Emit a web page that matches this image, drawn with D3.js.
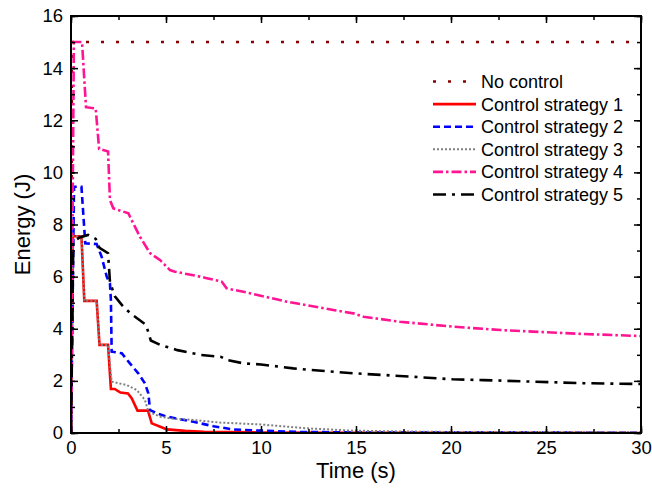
<!DOCTYPE html>
<html><head><meta charset="utf-8">
<script src="https://cdn.jsdelivr.net/npm/d3@7"></script>
<style>body{margin:0;background:#fff}svg{display:block}text{font-family:"Liberation Sans",Arial,sans-serif;fill:#000}</style>
</head><body><svg id="c" width="652" height="490"></svg>
<script>
const seriesNames = ["No control","Control strategy 1","Control strategy 2","Control strategy 3","Control strategy 4","Control strategy 5"];
const tNo = [0,0.05,30];
const eNo = [0,15,15];
const t1 = [0,0.1,0.55,0.7,1.35,1.5,1.95,2.1,2.3,2.6,3.0,3.2,3.5,4.05,4.25,4.7,5.05,6,7,10,15,30];
const e1 = [0,7.55,7.55,5.07,5.07,3.38,3.38,1.69,1.69,1.55,1.52,1.33,0.86,0.86,0.37,0.24,0.14,0.08,0.05,0.02,0.01,0];
const t2 = [0,0.16,0.55,0.75,1.35,1.61,1.88,2.05,2.1,2.14,2.67,3.1,3.54,3.89,4.07,4.16,4.51,5.04,6.44,7.5,8.5,10,12,15,30];
const e2 = [0,9.45,9.45,7.28,7.25,6.77,6.0,5.74,5.1,3.12,3.06,2.67,2.29,1.91,1.52,0.88,0.76,0.63,0.43,0.26,0.14,0.09,0.04,0.02,0.01];
const t3 = [0,0.1,0.55,0.7,1.35,1.5,1.95,2.14,2.93,3.46,3.89,4.07,4.68,5.21,6.44,7.84,9.95,12.4,14.8,17.3,20,30];
const e3 = [0,7.55,7.55,5.07,5.07,3.38,3.38,1.97,1.84,1.65,1.27,0.82,0.63,0.56,0.5,0.4,0.33,0.18,0.09,0.06,0.04,0.03];
const t4 = [0,0.15,0.58,0.79,1.3,1.48,1.95,2.05,2.23,3.02,3.19,3.63,4.16,4.68,5.21,5.47,6.79,7.14,7.93,8.19,9.07,11.35,13.8,14.86,15.4,17.3,20.1,22.6,24.3,26.97,30];
const e4 = [0,15,15,12.5,12.45,10.9,10.8,8.94,8.62,8.43,8.17,7.53,6.9,6.64,6.25,6.19,6.0,5.94,5.81,5.55,5.42,5.04,4.72,4.59,4.46,4.27,4.08,3.95,3.89,3.8,3.72];
const t5 = [0,0.12,0.45,0.9,1.3,1.5,1.95,2.05,2.3,2.75,3.2,3.95,4.2,4.7,5.6,6.8,7.9,8.2,9.1,10,11.7,12.6,14.9,17.3,20.1,21.7,24.3,27,30];
const e5 = [0,7.35,7.5,7.6,7.45,7.1,6.9,5.8,5.25,4.85,4.55,4.15,3.55,3.38,3.18,3.0,2.92,2.8,2.67,2.63,2.48,2.42,2.29,2.19,2.06,2.03,1.97,1.91,1.88];
const xTicks = [0,5,10,15,20,25,30];
const yTicks = [0,2,4,6,8,10,12,14,16];

const W = 652, H = 490;
const m = {l:71, r:641, t:16, b:433};
const svg = d3.select("#c");
const x = d3.scaleLinear().domain([0,30]).range([m.l,m.r]);
const y = d3.scaleLinear().domain([0,16]).range([m.b,m.t]);

svg.append("defs").append("clipPath").attr("id","clip")
  .append("rect").attr("x",m.l).attr("y",m.t).attr("width",m.r-m.l).attr("height",m.b-m.t);

const styles = [
  {c:"#8b0000", d:"3,12", w:2.6},
  {c:"#ff0000", d:null, w:2.6},
  {c:"#0000ff", d:"7,4", w:2.6},
  {c:"#808080", d:"2,2", w:2},
  {c:"#ff1493", d:"10,3,2.5,3", w:2.6},
  {c:"#000000", d:"13,6,3,6", w:2.6}
];
const data = [[tNo,eNo],[t1,e1],[t2,e2],[t3,e3],[t4,e4],[t5,e5]];
const line = d3.line().x(d=>x(d[0])).y(d=>y(d[1]));
const g = svg.append("g").attr("clip-path","url(#clip)");
data.forEach((s,i)=>{
  const pts = s[0].map((t,j)=>[t,s[1][j]]);
  g.append("path").datum(pts).attr("d",line).attr("fill","none")
    .attr("stroke",styles[i].c).attr("stroke-width",styles[i].w)
    .attr("stroke-dasharray",styles[i].d).attr("stroke-linejoin","miter");
});

const xMinor = d3.range(0,30.01,2.5);
const yMinor = d3.range(0,16.01,1);
const ax = svg.append("g");
function addAxis(axisFn, scale, vals, size, transform){
  ax.append("g").attr("transform",transform)
    .call(axisFn(scale).tickValues(vals).tickSize(size).tickFormat(""))
    .call(s=>s.select(".domain").remove())
    .call(s=>s.selectAll("line").attr("stroke","#000").attr("stroke-width",1.5));
}
addAxis(d3.axisTop, x, xMinor, 4, `translate(0,${m.b})`);
addAxis(d3.axisTop, x, xTicks, 7, `translate(0,${m.b})`);
addAxis(d3.axisBottom, x, xMinor, 4, `translate(0,${m.t})`);
addAxis(d3.axisBottom, x, xTicks, 7, `translate(0,${m.t})`);
addAxis(d3.axisRight, y, yMinor, 4, `translate(${m.l},0)`);
addAxis(d3.axisRight, y, yTicks, 7, `translate(${m.l},0)`);
addAxis(d3.axisLeft, y, yMinor, 4, `translate(${m.r},0)`);
addAxis(d3.axisLeft, y, yTicks, 7, `translate(${m.r},0)`);

svg.append("rect").attr("x",m.l).attr("y",m.t).attr("width",m.r-m.l).attr("height",m.b-m.t)
  .attr("fill","none").attr("stroke","#000").attr("stroke-width",2);

const xl = d3.axisBottom(x).tickValues(xTicks).tickSize(0).tickPadding(0);
svg.append("g").attr("transform",`translate(0,${m.b+8})`).call(xl)
  .call(s=>s.select(".domain").remove())
  .call(s=>s.selectAll("text").attr("font-size",18.5).attr("dy","0.71em").attr("font-family","Liberation Sans, Arial, sans-serif"));
const yl = d3.axisLeft(y).tickValues(yTicks).tickSize(0).tickPadding(8);
svg.append("g").attr("transform",`translate(${m.l},0)`).call(yl)
  .call(s=>s.select(".domain").remove())
  .call(s=>s.selectAll("text").attr("font-size",18.5).attr("font-family","Liberation Sans, Arial, sans-serif"));

svg.append("text").attr("x",(m.l+m.r)/2).attr("y",478).attr("text-anchor","middle")
  .attr("font-size",22).text("Time (s)");
svg.append("text").attr("transform",`translate(30,${(m.t+m.b)/2}) rotate(-90)`)
  .attr("text-anchor","middle").attr("font-size",22).text("Energy (J)");

const lg = svg.append("g");
seriesNames.forEach((n,i)=>{
  const yy = 81.5 + i*22.6;
  lg.append("line").attr("x1",433).attr("x2",476).attr("y1",yy).attr("y2",yy)
    .attr("stroke",styles[i].c).attr("stroke-width",styles[i].w).attr("stroke-dasharray",styles[i].d);
  lg.append("text").attr("x",481).attr("y",yy+6.5).attr("font-size",18).text(n);
});
</script></body></html>
